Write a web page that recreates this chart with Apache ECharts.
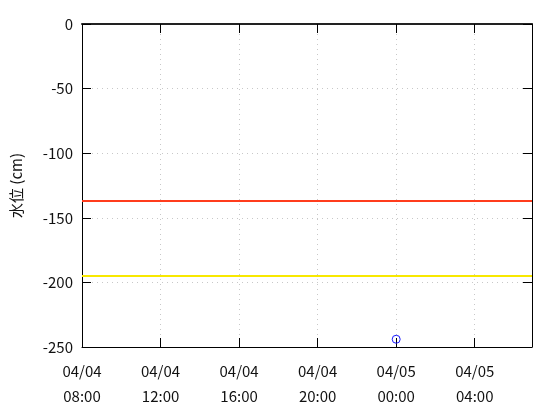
<!DOCTYPE html>
<html>
<head>
<meta charset="utf-8">
<script src="https://cdn.jsdelivr.net/npm/echarts@6/dist/echarts.min.js"></script>
<style>html,body{margin:0;padding:0;background:#fff}#c{width:560px;height:420px}</style>
</head>
<body>
<div id="c"></div>
<script>
// Data
const rangeStart = '04/04 08:00';
const rangeEnd = '04/05 06:55';
const obsTimes = ['04/05 00:00'];
const obsLevels = [-244];
const redLevel = -137;
const yellowLevel = -195;
const yTicks = [0, -50, -100, -150, -200, -250];
const yName = '水位 (cm)';

// hours since 04/04 00:00
function toHours(s) {
  const m = s.match(/(\d+)\/(\d+) (\d+):(\d+)/);
  return (parseInt(m[2], 10) - 4) * 24 + parseInt(m[3], 10) + parseInt(m[4], 10) / 60;
}
function pad(n) { return (n < 10 ? '0' : '') + n; }
function fmt(h) {
  if (Math.abs(h - Math.round(h / 4) * 4) > 1e-6) return '';
  h = Math.round(h);
  const day = 4 + Math.floor(h / 24);
  const hh = h % 24;
  return '04/' + pad(day) + '\n' + pad(hh) + ':00';
}

const font = 'Noto Sans CJK JP';
const xMin = toHours(rangeStart), xMax = toHours(rangeEnd);
const gridLine = { show: true, lineStyle: { color: '#c8c8c8', type: [1, 4], width: 1 } };

const chart = echarts.init(document.getElementById('c'), null, { renderer: 'canvas' });
chart.setOption({
  animation: false,
  backgroundColor: '#fff',
  textStyle: { fontFamily: font },
  grid: { left: 82, right: 28, top: 24, bottom: 73 },
  xAxis: [{
    type: 'value', min: xMin, max: xMax, interval: 4, position: 'bottom',
    axisLine: { show: true, onZero: false, lineStyle: { color: '#000', width: 1 } },
    axisTick: { show: true, inside: true, length: 9, lineStyle: { color: '#000' } },
    axisLabel: { formatter: fmt, color: '#111', fontSize: 15, lineHeight: 25, margin: 12, fontFamily: font, showMaxLabel: false },
    splitLine: gridLine
  }, {
    type: 'value', min: xMin, max: xMax, interval: 4, position: 'top',
    axisLine: { show: true, onZero: false, lineStyle: { color: '#222', width: 2 } },
    axisTick: { show: true, inside: true, length: 9, lineStyle: { color: '#000' } },
    axisLabel: { show: false }, splitLine: { show: false }
  }],
  yAxis: [{
    type: 'value', min: yTicks[yTicks.length - 1], max: yTicks[0], interval: 50, position: 'left',
    name: yName, nameLocation: 'middle', nameGap: 58, nameRotate: 90,
    nameTextStyle: { fontSize: 15, color: '#111', fontFamily: font },
    axisLine: { show: true, onZero: false, lineStyle: { color: '#000', width: 1 } },
    axisTick: { show: true, inside: true, length: 9, lineStyle: { color: '#000' } },
    axisLabel: { color: '#111', fontSize: 15, margin: 9, fontFamily: font },
    splitLine: gridLine
  }, {
    type: 'value', min: yTicks[yTicks.length - 1], max: yTicks[0], interval: 50, position: 'right',
    axisLine: { show: true, onZero: false, lineStyle: { color: '#000', width: 1 } },
    axisTick: { show: true, inside: true, length: 9, lineStyle: { color: '#000' } },
    axisLabel: { show: false }, splitLine: { show: false }
  }],
  series: [{
    type: 'scatter', xAxisIndex: 0, yAxisIndex: 0,
    data: obsTimes.map((t, i) => [toHours(t), obsLevels[i]]),
    symbol: 'circle', symbolSize: 8,
    itemStyle: { color: 'rgba(0,0,0,0)', borderColor: '#1a1aff', borderWidth: 1, opacity: 1 },
    z: 5,
    markLine: {
      silent: true, symbol: ['none', 'none'], label: { show: false },
      data: [
        { yAxis: redLevel, lineStyle: { color: '#ff3c1c', width: 2, type: 'solid' } },
        { yAxis: yellowLevel, lineStyle: { color: '#f8e800', width: 2, type: 'solid' } }
      ]
    }
  }]
});
</script>
</body>
</html>
